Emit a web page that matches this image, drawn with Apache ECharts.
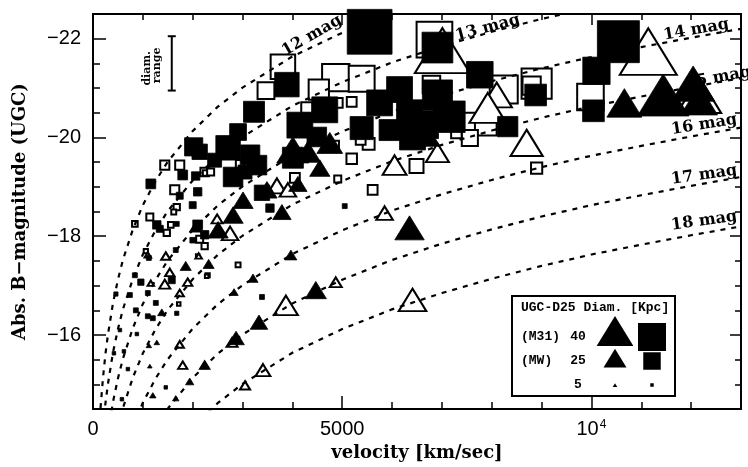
<!DOCTYPE html>
<html><head><meta charset="utf-8">
<script src="https://cdn.jsdelivr.net/npm/echarts@6/dist/echarts.min.js"></script>
<style>html,body{margin:0;padding:0;background:#fff}#c{width:748px;height:467px}</style>
</head><body><div id="c"></div>
<script>
// ---- data: [velocity km/s, Abs. B magnitude, UGC D25 diameter kpc] ----
const filledSquares = [
[5550,-22.14,64],[6910,-21.82,44],[7760,-21.27,38],[3890,-21.07,35],[3230,-20.52,30],
[4650,-20.56,37],[6150,-20.97,37],[5750,-20.70,37],[6350,-20.50,37],[6410,-20.01,37],
[6910,-20.86,43],[7150,-20.42,45],[5390,-20.19,33],[6650,-20.26,40],[5950,-20.15,30],
[4010,-19.59,30],[10540,-21.94,60],[10100,-21.35,39],[10040,-20.54,31],[8880,-20.86,31],
[8320,-20.22,29],[2020,-19.81,26],[2710,-19.79,35],[2910,-20.11,24],[2810,-19.20,28],
[3390,-18.88,22],[3290,-19.44,28],[3550,-18.57,12],[3350,-19.40,10],[1160,-19.06,14],
[1800,-19.24,14],[2060,-19.22,12],[1740,-18.82,10],[2100,-18.90,12],[2000,-18.63,10],
[1280,-18.23,12],[1340,-18.15,10],[1680,-18.25,7],[2100,-18.23,14],[2240,-18.03,12],
[2000,-17.92,8],[1660,-17.72,7],[1120,-17.56,7],[840,-17.21,7],[960,-17.07,9],
[1580,-17.11,10],[460,-16.83,6],[740,-16.81,7],[1100,-16.85,7],[1260,-16.65,7],
[860,-16.50,7],[1100,-16.38,7],[1200,-16.34,7],[1680,-16.44,6],[540,-16.10,5],
[880,-16.02,5],[420,-15.63,5],[620,-15.67,5],[1460,-14.94,5],[580,-14.70,5],
[700,-15.31,5],[3390,-16.77,7],[5050,-18.61,7],[4150,-20.25,37],[4490,-20.01,28],
[3150,-19.65,28],[3050,-19.30,20],[2140,-19.71,22],[2440,-19.54,20]
];
const openSquares = [
[6850,-21.98,51],[3810,-21.43,35],[3470,-20.95,24],[4870,-21.21,39],[5390,-21.19,37],
[4530,-20.97,29],[6490,-19.42,20],[5610,-18.94,14],[7560,-20.30,28],[9980,-20.82,38],
[8900,-21.09,43],[8800,-21.05,26],[8900,-19.38,16],[8240,-20.97,40],[7880,-20.26,31],
[7560,-19.99,23],[7290,-20.09,15],[6790,-21.07,25],[5190,-20.72,14],[4910,-20.70,14],
[4290,-20.60,16],[5530,-19.87,17],[5190,-19.57,15],[4050,-19.18,14],[2240,-19.30,12],
[1440,-19.44,13],[1740,-19.44,13],[1640,-18.94,13],[2260,-19.28,8],[1680,-18.59,9],
[1620,-18.49,7],[840,-18.25,8],[1140,-18.39,10],[1480,-18.07,9],[1560,-18.23,8],
[2140,-17.94,10],[2240,-17.80,9],[1060,-17.70,6],[2100,-17.60,5],[2300,-17.21,6],
[1720,-16.63,5],[2910,-17.42,7],[2280,-17.19,5],[4910,-19.16,10],[5370,-19.95,14],
[4850,-19.85,12],[7050,-20.30,20],[2950,-19.46,12],[2360,-19.30,10]
];
const filledTriangles = [
[4750,-19.89,28],[4010,-19.75,35],[6350,-18.17,32],[10660,-20.70,38],[11440,-20.86,56],
[12040,-21.09,47],[12160,-20.76,40],[6610,-20.11,38],[3010,-18.73,22],[2810,-18.43,22],
[3490,-18.94,22],[3790,-18.49,20],[4310,-19.71,28],[4550,-19.38,22],[2510,-18.13,22],
[4110,-19.06,20],[2060,-18.19,14],[2320,-17.44,12],[1860,-17.40,12],[1380,-16.46,9],
[1120,-15.79,6],[1280,-15.85,6],[1140,-15.37,5],[2240,-15.39,10],[1940,-15.06,9],
[1200,-14.78,7],[1660,-14.72,7],[3970,-17.62,13],[3210,-17.15,11],[2830,-16.87,9],
[4470,-16.91,23],[3330,-16.26,19],[2870,-15.94,18]
];
const openTriangles = [
[7010,-21.76,60],[11140,-21.74,62],[12160,-20.86,48],[6050,-19.44,26],[5850,-18.47,18],
[6910,-19.69,25],[8100,-20.86,33],[7920,-20.60,40],[7010,-20.62,25],[8700,-19.89,35],
[3690,-19.02,20],[3910,-18.94,18],[2750,-18.06,18],[2490,-18.35,12],[1460,-17.60,10],
[1540,-17.27,10],[1160,-17.05,7],[1440,-17.03,12],[1900,-17.07,10],[1740,-16.85,9],
[1740,-15.81,9],[1800,-15.39,10],[2240,-15.39,10],[3870,-16.60,26],[4870,-17.07,13],
[6410,-16.71,30],[3410,-15.29,16],[3050,-14.98,11],[1100,-17.62,7],[2120,-17.60,7],
[2790,-15.85,12]
];
// apparent-magnitude limit curves
const curveVelocity = [100,150,200,250,300,400,500,600,800,1000,1250,1500,2000,2500,3000,4000,5000,6000,7000,8000,9000,10000,11000,12000,13000];
const curve12 = [-13.63,-14.51,-15.13,-15.62,-16.01,-16.64,-17.12,-17.52,-18.14,-18.63,-19.11,-19.51,-20.13,-20.62,-21.01,-21.64,-22.12,-22.52,-22.85,null,null,null,null,null,null];
const curve13 = [null,null,-14.13,-14.62,-15.01,-15.64,-16.12,-16.52,-17.14,-17.63,-18.11,-18.51,-19.13,-19.62,-20.01,-20.64,-21.12,-21.52,-21.85,-22.14,-22.40,-22.63,null,null,null];
const curve14 = [null,null,null,null,-14.01,-14.64,-15.12,-15.52,-16.14,-16.63,-17.11,-17.51,-18.13,-18.62,-19.01,-19.64,-20.12,-20.52,-20.85,-21.14,-21.40,-21.63,-21.83,-22.02,-22.20];
const curve15 = [null,null,null,null,null,null,-14.12,-14.52,-15.14,-15.63,-16.11,-16.51,-17.13,-17.62,-18.01,-18.64,-19.12,-19.52,-19.85,-20.14,-20.40,-20.63,-20.83,-21.02,-21.20];
const curve16 = [null,null,null,null,null,null,null,null,-14.14,-14.63,-15.11,-15.51,-16.13,-16.62,-17.01,-17.64,-18.12,-18.52,-18.85,-19.14,-19.40,-19.63,-19.83,-20.02,-20.20];
const curve17 = [null,null,null,null,null,null,null,null,null,null,-14.11,-14.51,-15.13,-15.62,-16.01,-16.64,-17.12,-17.52,-17.85,-18.14,-18.40,-18.63,-18.83,-19.02,-19.20];
const curve18 = [null,null,null,null,null,null,null,null,null,null,null,null,-14.13,-14.62,-15.01,-15.64,-16.12,-16.52,-16.85,-17.14,-17.40,-17.63,-17.83,-18.02,-18.20];
const curves = [curve12, curve13, curve14, curve15, curve16, curve17, curve18];
const magLabels = ['12 mag','13 mag','14 mag','15 mag','16 mag','17 mag','18 mag'];
const xMajor = [0, 5000, 10000];
const xMinor = [1000,2000,3000,4000,6000,7000,8000,9000,11000,12000];
const yMajor = [-22, -20, -18, -16];
const yMinor = [-21.5,-21,-20.5,-19.5,-19,-18.5,-17.5,-17,-16.5,-15.5,-15];
const legendDiam = [40, 25, 5];
const legendNames = ['(M31)', '(MW)', ''];
const diamRange = [1580, -22.05, -20.95];

// ---- layout / style ----
const magLabelPos = [[4390,-22.06,30],[7920,-22.22,15],[12100,-22.18,10],[12540,-21.21,10],[12260,-20.26,9],[12260,-19.24,8],[12260,-18.31,8]];
const sqSize = d => 0.7 * d;
const triSize = d => [0.92 * d, 0.75 * d];
const tickFont = 'Liberation Sans';
const serif = 'DejaVu Serif';

function axisX(pos, values, len, labels) {
  return {
    type: 'value', min: 0, max: 13000, position: pos,
    axisLine: {show: false, onZero: false}, splitLine: {show: false},
    axisTick: {inside: true, length: len, customValues: values, lineStyle: {color: '#000', width: 1.5}},
    axisLabel: labels ? {
      customValues: values, margin: 10, color: '#000',
      formatter: v => v === 10000 ? '{a|10}{s|4}' : '{a|' + v + '}',
      rich: {a: {fontSize: 20, fontFamily: tickFont, color: '#000'},
             s: {fontSize: 12, fontFamily: tickFont, color: '#000', verticalAlign: 'top', padding: [0, 0, 0, 1]}}
    } : {show: false}
  };
}
function axisY(pos, values, len, labels) {
  return {
    type: 'value', min: -22.5, max: -14.5, inverse: true, position: pos,
    axisLine: {show: false, onZero: false}, splitLine: {show: false},
    axisTick: {inside: true, length: len, customValues: values, lineStyle: {color: '#000', width: 1.5}},
    axisLabel: labels ? {
      customValues: values, margin: 12, color: '#000', fontSize: 20, fontFamily: tickFont,
      formatter: v => String(v).replace('-', '\u2212')
    } : {show: false}
  };
}

const xAxes = [axisX('bottom', xMajor, 13, true), axisX('bottom', xMinor, 7, false),
               axisX('top', [5000, 10000], 11, false), axisX('top', xMinor, 6, false)];
xAxes[0].name = 'velocity [km/sec]';
xAxes[0].nameLocation = 'middle';
xAxes[0].nameGap = 32;
xAxes[0].nameTextStyle = {fontFamily: serif, fontWeight: 'bold', fontSize: 18, color: '#000'};
const yAxes = [axisY('left', yMajor, 13, true), axisY('left', yMinor, 7, false),
               axisY('right', yMajor, 11, false), axisY('right', yMinor, 6, false)];
yAxes[0].name = 'Abs. B\u2212magnitude (UGC)';
yAxes[0].nameLocation = 'middle';
yAxes[0].nameGap = 64;
yAxes[0].nameTextStyle = {fontFamily: serif, fontWeight: 'bold', fontSize: 18, color: '#000'};

const series = [];
series.push({type: 'scatter', name: 'open squares', data: openSquares, symbol: 'rect',
  symbolSize: v => sqSize(v[2]), clip: false, z: 2,
  itemStyle: {color: '#fff', borderColor: '#000', borderWidth: 2, opacity: 1}});
series.push({type: 'scatter', name: 'open triangles', data: openTriangles, symbol: 'triangle',
  symbolSize: v => triSize(v[2]), clip: false, z: 2,
  itemStyle: {color: '#fff', borderColor: '#000', borderWidth: 2, opacity: 1}});
series.push({type: 'scatter', name: 'filled squares', data: filledSquares, symbol: 'rect',
  symbolSize: v => sqSize(v[2]), clip: false, z: 3,
  itemStyle: {color: '#000', borderColor: '#000', borderWidth: 0.8, opacity: 1}});
series.push({type: 'scatter', name: 'filled triangles', data: filledTriangles, symbol: 'triangle',
  symbolSize: v => triSize(v[2]), clip: false, z: 3,
  itemStyle: {color: '#000', borderColor: '#000', borderWidth: 0.8, opacity: 1}});
curves.forEach((c, i) => {
  series.push({type: 'line', name: magLabels[i], z: 4, clip: true, symbol: 'none', smooth: false,
    data: curveVelocity.map((v, j) => [v, c[j] === null ? '-' : c[j]]),
    lineStyle: {color: '#000', width: 2.2, type: [5, 6]}});
});
series.push({type: 'custom', name: 'mag labels', z: 5, clip: false,
  data: magLabelPos.map(p => [p[0], p[1]]),
  renderItem: (params, api) => {
    const p = api.coord([api.value(0), api.value(1)]);
    const i = params.dataIndex;
    return {type: 'text', x: p[0], y: p[1], rotation: magLabelPos[i][2] * Math.PI / 180,
      style: {text: magLabels[i], font: 'bold 16px "' + serif + '"', fill: '#000', align: 'center', verticalAlign: 'middle'}};
  }});
series.push({type: 'custom', name: 'diam range', z: 5, clip: false,
  data: [diamRange],
  renderItem: (params, api) => {
    const t = api.coord([api.value(0), api.value(1)]);
    const b = api.coord([api.value(0), api.value(2)]);
    const ls = {stroke: '#000', lineWidth: 2};
    const my = (t[1] + b[1]) / 2 + 5;
    return {type: 'group', children: [
      {type: 'line', shape: {x1: t[0], y1: t[1], x2: b[0], y2: b[1]}, style: ls},
      {type: 'line', shape: {x1: t[0] - 4, y1: t[1], x2: t[0] + 4, y2: t[1]}, style: ls},
      {type: 'line', shape: {x1: b[0] - 4, y1: b[1], x2: b[0] + 4, y2: b[1]}, style: ls},
      {type: 'text', x: t[0] - 25, y: my, rotation: Math.PI / 2,
        style: {text: 'diam.', font: 'bold 11px "' + serif + '"', fill: '#000', align: 'center', verticalAlign: 'middle'}},
      {type: 'text', x: t[0] - 15, y: my - 3, rotation: Math.PI / 2,
        style: {text: 'range', font: 'bold 11px "' + serif + '"', fill: '#000', align: 'center', verticalAlign: 'middle'}}
    ]};
  }});

// legend box (custom symbols by diameter)
const lgX = 512, lgY = 296;
const legendFont = 'bold 13px "Liberation Mono"';
const gEls = [
  {type: 'rect', shape: {x: lgX, y: lgY, width: 163, height: 100}, style: {fill: '#fff', stroke: '#000', lineWidth: 2}, z: 100},
  {type: 'text', x: lgX + 9, y: lgY + 12, style: {text: 'UGC-D25 Diam. [Kpc]', font: legendFont, fill: '#000', verticalAlign: 'middle'}, z: 101}
];
const rowY = [41, 65, 89];
const triY = [35, 62, 89];
legendDiam.forEach((d, i) => {
  const y = lgY + rowY[i];
  if (legendNames[i]) gEls.push({type: 'text', x: lgX + 9, y: y, style: {text: legendNames[i], font: legendFont, fill: '#000', verticalAlign: 'middle'}, z: 101});
  gEls.push({type: 'text', x: lgX + 66, y: y, style: {text: String(d), font: legendFont, fill: '#000', align: 'center', verticalAlign: 'middle'}, z: 101});
  const ts = triSize(d), cx = lgX + 103, cy = lgY + triY[i];
  gEls.push({type: 'polygon', shape: {points: [[cx, cy - ts[1] / 2], [cx + ts[0] / 2, cy + ts[1] / 2], [cx - ts[0] / 2, cy + ts[1] / 2]]}, style: {fill: '#000'}, z: 101});
  const s = sqSize(d), sx = lgX + 140, sy = lgY + rowY[i];
  gEls.push({type: 'rect', shape: {x: sx - s / 2, y: sy - s / 2, width: s, height: s}, style: {fill: '#000'}, z: 101});
});

const chart = echarts.init(document.getElementById('c'), null, {renderer: 'canvas'});
chart.setOption({
  animation: false,
  backgroundColor: '#fff',
  grid: {show: true, left: 93, right: 7, top: 14, bottom: 57, borderColor: '#000', borderWidth: 2, backgroundColor: 'transparent'},
  xAxis: xAxes,
  yAxis: yAxes,
  series: series,
  graphic: {elements: gEls}
});
</script>
</body></html>
